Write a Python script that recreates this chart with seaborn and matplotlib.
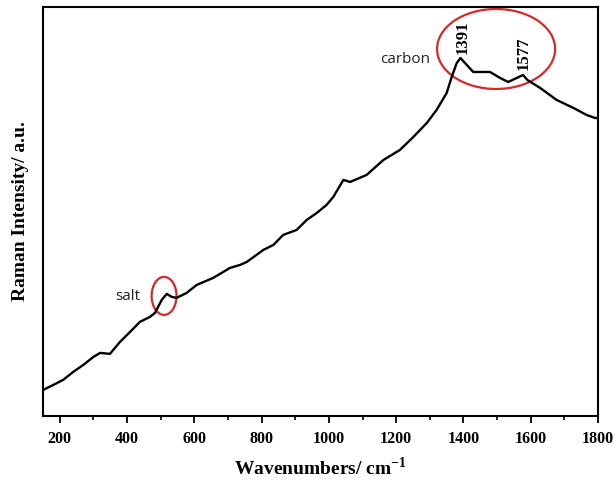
import matplotlib
matplotlib.use("Agg")
import matplotlib.pyplot as plt
import seaborn as sns
import pandas as pd
from matplotlib.patches import Ellipse
from matplotlib.ticker import MultipleLocator

# Data (wavenumber in cm^-1, intensity in arbitrary units)
wavenumber = [151, 181, 210, 240, 270, 300, 320, 349, 379, 409, 438, 468, 483,
              503, 518, 533, 547, 577, 607, 656, 706, 736, 756, 805, 835, 864,
              904, 934, 964, 993, 1013, 1043, 1063, 1112, 1162, 1211, 1251,
              1291, 1320, 1350, 1365, 1380, 1391, 1410, 1429, 1479, 1509, 1533,
              1577, 1590, 1628, 1677, 1727, 1766, 1791, 1799]
intensity = [26, 31, 36, 44, 51, 59, 63, 62, 74, 84, 94, 99, 103,
             116, 122, 119, 118, 123, 131, 138, 148, 151, 154, 166, 171, 181,
             186, 196, 203, 211, 219, 236, 234, 241, 256, 266, 279,
             293, 306, 323, 339, 353, 358, 351, 344, 344, 338, 334,
             341, 336, 328, 316, 308, 301, 298, 298]

x_ticks = [200, 400, 600, 800, 1000, 1200, 1400, 1600, 1800]
peak_labels = ["1391", "1577"]
peak_pos = [1396, 1580]
peak_y = [379, 363]

df = pd.DataFrame({"Wavenumber": wavenumber, "Intensity": intensity})

sns.set_style("ticks")
plt.rcParams["font.family"] = ["Liberation Serif", "DejaVu Serif"]
plt.rcParams["text.color"] = "black"
plt.rcParams["xtick.color"] = "black"
plt.rcParams["axes.labelcolor"] = "black"

fig = plt.figure(figsize=(6.14, 4.83), dpi=100)
ax = fig.add_axes([0.070, 0.139, 0.904, 0.8465])

sns.lineplot(data=df, x="Wavenumber", y="Intensity", ax=ax, color="black",
             linewidth=1.7, estimator=None, sort=False)

ax.set_xlim(150, 1800)
ax.set_ylim(0, 409)
ax.set_xticks(x_ticks)
ax.set_xticklabels([str(t) for t in x_ticks])
ax.xaxis.set_minor_locator(MultipleLocator(100))
ax.set_yticks([])
ax.tick_params(axis="x", which="major", direction="out", length=5, width=1.3,
               labelsize=11.5, pad=6)
ax.tick_params(axis="x", which="minor", direction="out", length=3, width=1.2)
for lbl in ax.get_xticklabels():
    lbl.set_fontweight("bold")
for s in ax.spines.values():
    s.set_visible(True)
    s.set_linewidth(1.5)
    s.set_color("black")

ax.set_xlabel("Wavenumbers/ cm$^{\\mathregular{-1}}$", fontsize=14, fontweight="bold",
              labelpad=7)
ax.set_ylabel("Raman Intensity/ a.u.", fontsize=14, fontweight="bold", labelpad=10)

# Annotations
ax.add_patch(Ellipse((1497, 367), width=351, height=80, fill=False,
                     edgecolor="#d42a2a", linewidth=1.6))
ax.add_patch(Ellipse((510, 120), width=74, height=38, fill=False,
                     edgecolor="#d42a2a", linewidth=1.6))
ax.text(1226, 356, "carbon", fontsize=11, family=["Open Sans", "DejaVu Sans"],
        ha="center", va="center", color="#222222")
ax.text(403, 119, "salt", fontsize=11, family=["Open Sans", "DejaVu Sans"],
        ha="center", va="center", color="#222222")
for lab, xp, yp in zip(peak_labels, peak_pos, peak_y):
    ax.text(xp, yp, lab, rotation=90, fontsize=12, ha="center", va="center",
            family=["Liberation Serif"], fontweight="bold", color="black")

fig.savefig("out.png", dpi=100)
